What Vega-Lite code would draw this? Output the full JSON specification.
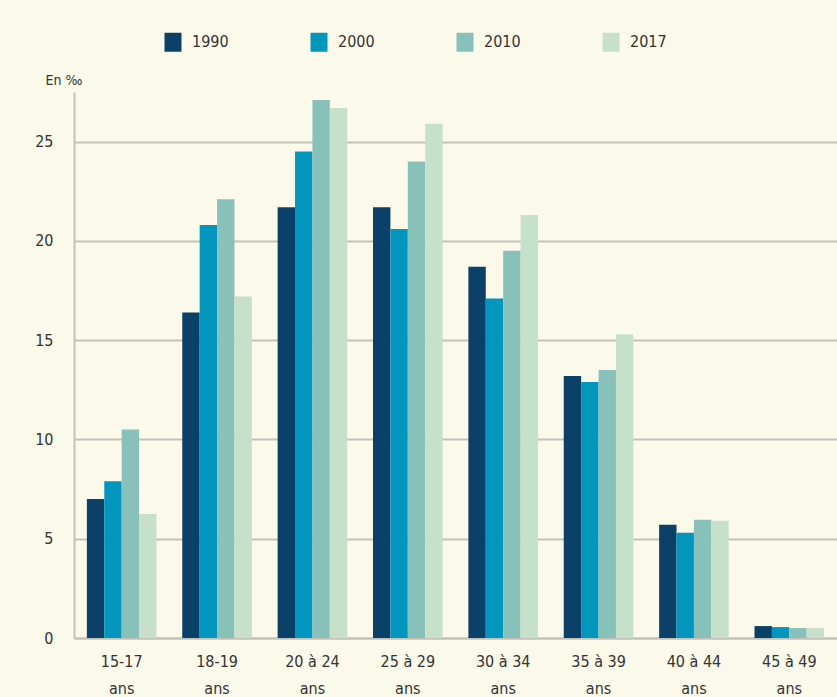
{
  "$schema": "https://vega.github.io/schema/vega-lite/v6.json",
  "width": 763,
  "height": 546,
  "autosize": {"type": "none"},
  "padding": {"left": 74, "top": 92, "right": 0, "bottom": 59},
  "background": "#FBFAEA",
  "data": {"values": [
    {"age": "15-17", "year": "1990", "v": 7.0},
    {"age": "15-17", "year": "2000", "v": 7.9},
    {"age": "15-17", "year": "2010", "v": 10.5},
    {"age": "15-17", "year": "2017", "v": 6.25},
    {"age": "18-19", "year": "1990", "v": 16.4},
    {"age": "18-19", "year": "2000", "v": 20.8},
    {"age": "18-19", "year": "2010", "v": 22.1},
    {"age": "18-19", "year": "2017", "v": 17.2},
    {"age": "20 à 24", "year": "1990", "v": 21.7},
    {"age": "20 à 24", "year": "2000", "v": 24.5},
    {"age": "20 à 24", "year": "2010", "v": 27.1},
    {"age": "20 à 24", "year": "2017", "v": 26.7},
    {"age": "25 à 29", "year": "1990", "v": 21.7},
    {"age": "25 à 29", "year": "2000", "v": 20.6},
    {"age": "25 à 29", "year": "2010", "v": 24.0},
    {"age": "25 à 29", "year": "2017", "v": 25.9},
    {"age": "30 à 34", "year": "1990", "v": 18.7},
    {"age": "30 à 34", "year": "2000", "v": 17.1},
    {"age": "30 à 34", "year": "2010", "v": 19.5},
    {"age": "30 à 34", "year": "2017", "v": 21.3},
    {"age": "35 à 39", "year": "1990", "v": 13.2},
    {"age": "35 à 39", "year": "2000", "v": 12.9},
    {"age": "35 à 39", "year": "2010", "v": 13.5},
    {"age": "35 à 39", "year": "2017", "v": 15.3},
    {"age": "40 à 44", "year": "1990", "v": 5.7},
    {"age": "40 à 44", "year": "2000", "v": 5.3},
    {"age": "40 à 44", "year": "2010", "v": 5.95},
    {"age": "40 à 44", "year": "2017", "v": 5.9},
    {"age": "45 à 49", "year": "1990", "v": 0.6},
    {"age": "45 à 49", "year": "2000", "v": 0.55},
    {"age": "45 à 49", "year": "2010", "v": 0.5},
    {"age": "45 à 49", "year": "2017", "v": 0.5}
  ]},
  "mark": {"type": "bar"},
  "encoding": {
    "x": {
      "field": "age", "type": "nominal", "sort": null,
      "scale": {"paddingInner": 0.27, "paddingOuter": 0.135},
      "axis": {
        "title": null, "labelAngle": 0, "ticks": false,
        "labelExpr": "[datum.value, 'ans']",
        "labelBaseline": "top", "labelPadding": 15, "labelLineHeight": 27,
        "labelFont": "DejaVu Sans Condensed, Liberation Sans, sans-serif",
        "labelFontSize": 16, "labelColor": "#333333",
        "domainColor": "#C4C1BA", "domainWidth": 2
      }
    },
    "xOffset": {"field": "year", "type": "nominal"},
    "y": {
      "field": "v", "type": "quantitative",
      "scale": {"domain": [0, 27.5], "nice": false},
      "axis": {
        "values": [0, 5, 10, 15, 20, 25],
        "title": "En ‰", "titleAngle": 0, "titleAlign": "left", "titleBaseline": "alphabetic",
        "titleX": -29, "titleY": -8,
        "titleFont": "DejaVu Sans Condensed, Liberation Sans, sans-serif",
        "titleFontSize": 14, "titleFontWeight": "normal", "titleColor": "#333333",
        "ticks": false, "labelPadding": 21,
        "labelFont": "DejaVu Sans Condensed, Liberation Sans, sans-serif",
        "labelFontSize": 16, "labelColor": "#333333",
        "grid": true, "gridColor": "#C4C1BA", "gridWidth": 2,
        "domainColor": "#C4C1BA", "domainWidth": 2
      }
    },
    "color": {
      "field": "year", "type": "nominal",
      "scale": {"domain": ["1990", "2000", "2010", "2017"], "range": ["#0B4068", "#0096BE", "#88C1BA", "#C6E0CB"]},
      "legend": {
        "title": null, "orient": "none", "direction": "horizontal", "columns": 4,
        "legendX": 89, "legendY": -60,
        "symbolType": "M-0.85,-0.95L0.85,-0.95L0.85,0.95L-0.85,0.95Z", "symbolSize": 400,
        "symbolStrokeWidth": 0, "symbolOpacity": 1,
        "labelFont": "DejaVu Sans Condensed, Liberation Sans, sans-serif",
        "labelFontSize": 16, "labelColor": "#333333", "labelOffset": 9,
        "columnPadding": 80
      }
    }
  },
  "config": {"view": {"stroke": null}, "axis": {"gridCap": "butt"}}
}
